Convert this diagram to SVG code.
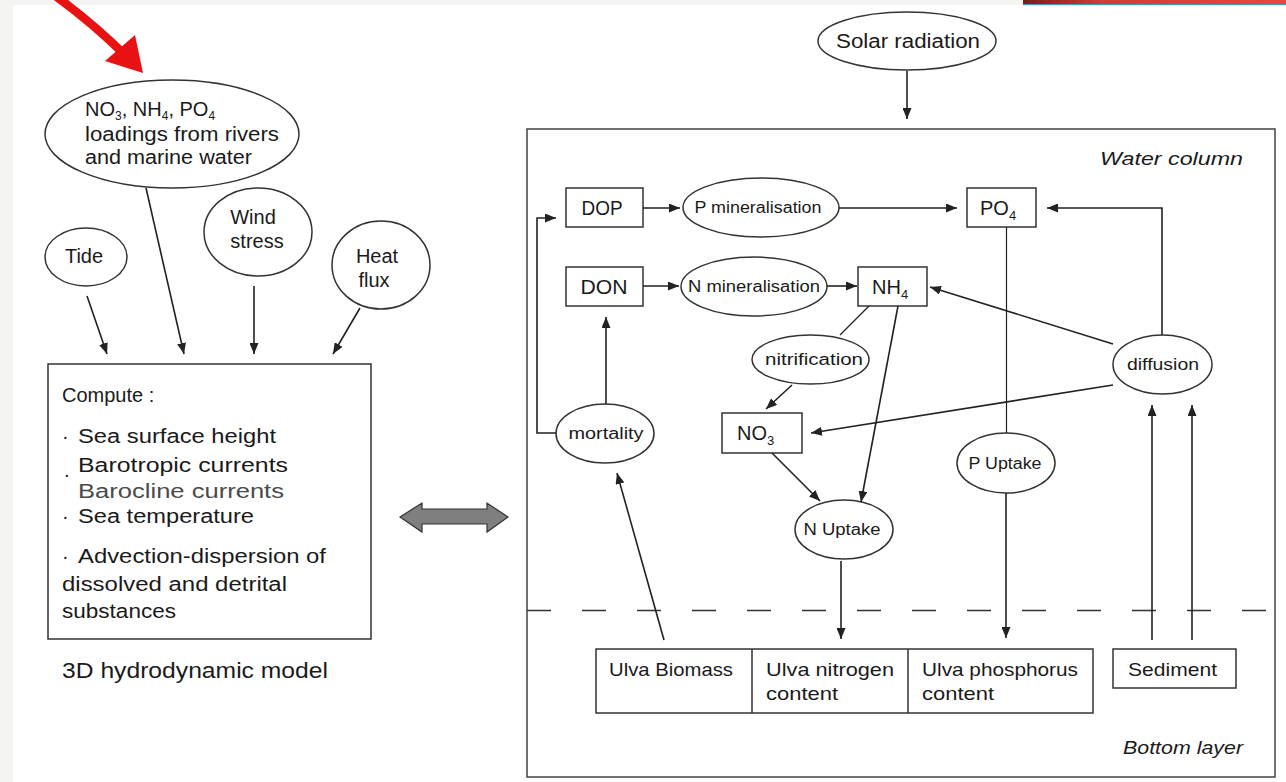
<svg xmlns="http://www.w3.org/2000/svg" width="1286" height="782" viewBox="0 0 1286 782">
<defs>
<marker id="ah" markerUnits="userSpaceOnUse" markerWidth="11" markerHeight="9" refX="11" refY="4.5" orient="auto">
<path d="M0,0 L11,4.5 L0,9 z" fill="#222"/>
</marker>
<linearGradient id="bar" x1="0" y1="0" x2="1" y2="0">
<stop offset="0" stop-color="#7a1c1c"/>
<stop offset="0.3" stop-color="#d63a35"/>
<stop offset="1" stop-color="#f0443c"/>
</linearGradient>
<style>
.t{font-family:"Liberation Sans","DejaVu Sans",sans-serif;fill:#1a1a1a}
.s{stroke:#333;stroke-width:1.5;fill:#fff}
.c{stroke:#222;stroke-width:1.6;fill:none}
.a{stroke:#222;stroke-width:1.6;fill:none;marker-end:url(#ah)}
.th{stroke:#222;stroke-width:1.2;fill:none}
.it{font-style:italic}
</style>
</defs>
<rect x="0" y="0" width="1286" height="782" fill="#f4f4f2"/>
<rect x="13" y="5" width="1273" height="777" fill="#fff"/>
<rect x="1023" y="0" width="263" height="4" fill="url(#bar)"/>
<rect x="1023" y="4" width="263" height="1.2" fill="#4a98b0"/>
<g id="red-arrow">
<path d="M50,-8 Q92,22 127,57" stroke="#e81212" stroke-width="8.5" fill="none"/>
<polygon points="143,73 105,61 135,35" fill="#e81212"/>
</g>
<g id="loadings">
<ellipse class="s" cx="172" cy="134" rx="127" ry="54"/>
<text class="t" x="85" y="116" font-size="20">NO<tspan font-size="12" dy="4">3</tspan><tspan dy="-4">, NH</tspan><tspan font-size="12" dy="4">4</tspan><tspan dy="-4">, PO</tspan><tspan font-size="12" dy="4">4</tspan></text>
<text class="t" x="85" y="141" font-size="20" textLength="194" lengthAdjust="spacingAndGlyphs">loadings from rivers</text>
<text class="t" x="85" y="164" font-size="20" textLength="167" lengthAdjust="spacingAndGlyphs">and marine water</text>
</g>
<g id="tide">
<ellipse class="s" cx="86" cy="257" rx="41" ry="29"/>
<text class="t" x="84" y="263" font-size="20" text-anchor="middle">Tide</text>
</g>
<g id="wind">
<ellipse class="s" cx="258" cy="232" rx="54" ry="44"/>
<text class="t" x="253" y="224" font-size="20" text-anchor="middle">Wind</text>
<text class="t" x="257" y="248" font-size="20" text-anchor="middle">stress</text>
</g>
<g id="heat">
<ellipse class="s" cx="381" cy="265" rx="49" ry="44"/>
<text class="t" x="377" y="263" font-size="20" text-anchor="middle">Heat</text>
<text class="t" x="374" y="287" font-size="20" text-anchor="middle">flux</text>
</g>
<g id="hydro-box">
<rect class="s" x="48" y="364" width="323" height="275"/>
<text class="t" x="62" y="402" font-size="20">Compute :</text>
<text class="t" x="62" y="443" font-size="20">·</text>
<text class="t" x="78" y="443" font-size="20" textLength="198" lengthAdjust="spacingAndGlyphs">Sea surface height</text>
<text class="t" x="64" y="477" font-size="20">.</text>
<text class="t" x="78" y="472" font-size="20" textLength="210" lengthAdjust="spacingAndGlyphs">Barotropic currents</text>
<text class="t" x="78" y="498" font-size="20" style="fill:#4a4a4a" textLength="206" lengthAdjust="spacingAndGlyphs">Barocline currents</text>
<text class="t" x="62" y="523" font-size="20">·</text>
<text class="t" x="78" y="523" font-size="20" textLength="176" lengthAdjust="spacingAndGlyphs">Sea temperature</text>
<text class="t" x="62" y="563" font-size="20">·</text>
<text class="t" x="78" y="563" font-size="20" textLength="248" lengthAdjust="spacingAndGlyphs">Advection-dispersion of</text>
<text class="t" x="62" y="591" font-size="20" textLength="225" lengthAdjust="spacingAndGlyphs">dissolved and detrital</text>
<text class="t" x="62" y="618" font-size="20" textLength="114" lengthAdjust="spacingAndGlyphs">substances</text>
</g>
<g id="hydro-label">
<text class="t" x="62" y="678" font-size="22" textLength="266" lengthAdjust="spacingAndGlyphs">3D hydrodynamic model</text>
</g>
<g id="coupling">
<polygon points="400,517 422,503 422,509 487,509 487,503 508,517 487,532 487,524 422,524 422,532" fill="#7f7f7f" stroke="#333" stroke-width="1.2"/>
</g>
<g id="solar">
<ellipse class="s" cx="907" cy="41" rx="89" ry="29"/>
<text class="t" x="908" y="48" font-size="20" text-anchor="middle" textLength="144" lengthAdjust="spacingAndGlyphs">Solar radiation</text>
</g>
<g id="ecomodel-frame">
<rect x="527" y="129" width="748" height="648" fill="none" stroke="#444" stroke-width="1.5"/>
<line x1="527" y1="610.5" x2="1275" y2="610.5" stroke="#333" stroke-width="1.3" stroke-dasharray="24 31"/>
<text class="t it" x="1100" y="165" font-size="19" textLength="143" lengthAdjust="spacingAndGlyphs">Water column</text>
<text class="t it" x="1123" y="754" font-size="19" textLength="120" lengthAdjust="spacingAndGlyphs">Bottom layer</text>
</g>
<g id="dop">
<rect class="s" x="566" y="188" width="77" height="39"/>
<text class="t" x="602" y="215" font-size="20" text-anchor="middle" textLength="41" lengthAdjust="spacingAndGlyphs">DOP</text>
</g>
<g id="don">
<rect class="s" x="566" y="267" width="77" height="39"/>
<text class="t" x="604" y="294" font-size="20" text-anchor="middle" textLength="47" lengthAdjust="spacingAndGlyphs">DON</text>
</g>
<g id="pmin">
<ellipse class="s" cx="761" cy="207.5" rx="78" ry="29.5"/>
<text class="t" x="758" y="213" font-size="16" text-anchor="middle" textLength="127" lengthAdjust="spacingAndGlyphs">P mineralisation</text>
</g>
<g id="nmin">
<ellipse class="s" cx="754" cy="286.5" rx="73" ry="29.5"/>
<text class="t" x="754" y="292" font-size="16" text-anchor="middle" textLength="132" lengthAdjust="spacingAndGlyphs">N mineralisation</text>
</g>
<g id="po4">
<rect class="s" x="967" y="188" width="69" height="39"/>
<text class="t" x="980" y="215" font-size="20">PO<tspan font-size="13" dy="5">4</tspan></text>
</g>
<g id="nh4">
<rect class="s" x="858" y="267" width="69" height="39"/>
<text class="t" x="872" y="294" font-size="20">NH<tspan font-size="13" dy="5">4</tspan></text>
</g>
<g id="nitrification">
<ellipse class="s" cx="810.5" cy="359.5" rx="58.5" ry="24.5"/>
<text class="t" x="814" y="365" font-size="16" text-anchor="middle" textLength="98" lengthAdjust="spacingAndGlyphs">nitrification</text>
</g>
<g id="no3">
<rect class="s" x="722" y="413" width="80" height="40"/>
<text class="t" x="737" y="440" font-size="20">NO<tspan font-size="13" dy="5">3</tspan></text>
</g>
<g id="mortality">
<ellipse class="s" cx="605" cy="433.5" rx="49" ry="29.5"/>
<text class="t" x="606" y="439" font-size="16" text-anchor="middle" textLength="75" lengthAdjust="spacingAndGlyphs">mortality</text>
</g>
<g id="nuptake">
<ellipse class="s" cx="844" cy="529.5" rx="49" ry="29.5"/>
<text class="t" x="842" y="535" font-size="16" text-anchor="middle" textLength="77" lengthAdjust="spacingAndGlyphs">N Uptake</text>
</g>
<g id="diffusion">
<ellipse class="s" cx="1162.5" cy="364.5" rx="49.5" ry="29.5"/>
<text class="t" x="1163" y="370" font-size="16" text-anchor="middle" textLength="72" lengthAdjust="spacingAndGlyphs">diffusion</text>
</g>
<g id="puptake">
<ellipse class="s" cx="1006" cy="463" rx="49" ry="30"/>
<text class="t" x="1005" y="469" font-size="16" text-anchor="middle" textLength="73" lengthAdjust="spacingAndGlyphs">P Uptake</text>
</g>
<g id="ulva">
<rect class="s" x="596" y="649" width="497" height="64"/>
<line x1="752" y1="649" x2="752" y2="713" stroke="#333" stroke-width="1.5"/>
<line x1="908" y1="649" x2="908" y2="713" stroke="#333" stroke-width="1.5"/>
<text class="t" x="609" y="676" font-size="19" textLength="124" lengthAdjust="spacingAndGlyphs">Ulva Biomass</text>
<text class="t" x="766" y="676" font-size="19" textLength="128" lengthAdjust="spacingAndGlyphs">Ulva nitrogen</text>
<text class="t" x="766" y="700" font-size="19" textLength="72" lengthAdjust="spacingAndGlyphs">content</text>
<text class="t" x="922" y="676" font-size="19" textLength="156" lengthAdjust="spacingAndGlyphs">Ulva phosphorus</text>
<text class="t" x="922" y="700" font-size="19" textLength="72" lengthAdjust="spacingAndGlyphs">content</text>
</g>
<g id="sediment">
<rect class="s" x="1113" y="649" width="123" height="39"/>
<text class="t" x="1128" y="676" font-size="19" textLength="89" lengthAdjust="spacingAndGlyphs">Sediment</text>
</g>
<g id="connectors">
<line class="a" x1="87" y1="296" x2="107" y2="354"/>
<line class="a" x1="146" y1="188" x2="184" y2="354"/>
<line class="a" x1="254" y1="286" x2="254" y2="354"/>
<line class="a" x1="360" y1="308" x2="333" y2="354"/>
<line class="a" x1="907" y1="71" x2="907" y2="119"/>
<line class="a" x1="643" y1="208" x2="680" y2="208"/>
<line class="a" x1="839" y1="208" x2="957" y2="208"/>
<line class="a" x1="643" y1="286" x2="679" y2="286"/>
<line class="a" x1="827" y1="286" x2="857" y2="286"/>
<polyline class="a" points="1162,335 1162,208 1047,208"/>
<line class="th" x1="1006.5" y1="227" x2="1006.5" y2="433"/>
<line class="a" x1="1006" y1="493" x2="1006" y2="638"/>
<line class="a" x1="1113" y1="344" x2="930" y2="287"/>
<line class="a" x1="1113" y1="385" x2="811" y2="433"/>
<line class="th" x1="869" y1="306" x2="840" y2="335"/>
<line class="a" x1="792" y1="385" x2="766" y2="409"/>
<line class="a" x1="898" y1="306" x2="861" y2="502"/>
<line class="a" x1="772" y1="453" x2="820" y2="501"/>
<line class="a" x1="841" y1="561" x2="841" y2="639"/>
<line class="a" x1="664" y1="640" x2="617" y2="473"/>
<line class="a" x1="606" y1="404" x2="606" y2="317"/>
<polyline class="a" points="556,433 537,433 537,218 556,218"/>
<line class="a" x1="1152" y1="640" x2="1152" y2="405"/>
<line class="a" x1="1192" y1="640" x2="1192" y2="405"/>
</g>
</svg>
